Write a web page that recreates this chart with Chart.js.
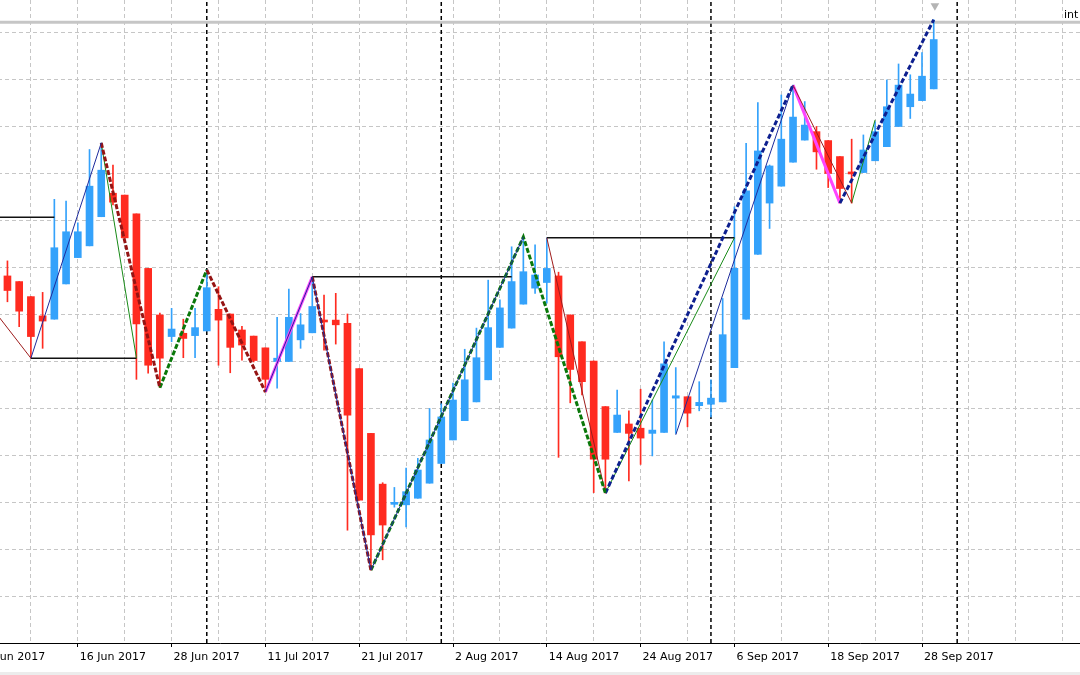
<!DOCTYPE html>
<html><head><meta charset="utf-8">
<script src="https://cdn.jsdelivr.net/npm/chart.js@4/dist/chart.umd.min.js"></script>
<style>
html,body{margin:0;padding:0;width:1080px;height:675px;overflow:hidden;background:#fff;}
#wrap{position:absolute;left:-100px;top:0;width:1280px;height:675px;}
#strip{position:absolute;left:0;top:672px;width:1080px;height:3px;background:#ececec;}
</style></head><body>
<div id="wrap"><canvas id="c" width="1280" height="675" style="width:1280px;height:675px"></canvas></div>
<div id="strip"></div>
<script>
// ---- data (daily bars, 8 Jun 2017 .. 29 Sep 2017) ----
const dates = ['2017-06-08','2017-06-09','2017-06-12','2017-06-13','2017-06-14','2017-06-15','2017-06-16','2017-06-19','2017-06-20','2017-06-21',
'2017-06-22','2017-06-23','2017-06-26','2017-06-27','2017-06-28','2017-06-29','2017-06-30','2017-07-03','2017-07-05','2017-07-06',
'2017-07-07','2017-07-10','2017-07-11','2017-07-12','2017-07-13','2017-07-14','2017-07-17','2017-07-18','2017-07-19','2017-07-20',
'2017-07-21','2017-07-24','2017-07-25','2017-07-26','2017-07-27','2017-07-28','2017-07-31','2017-08-01','2017-08-02','2017-08-03',
'2017-08-04','2017-08-07','2017-08-08','2017-08-09','2017-08-10','2017-08-11','2017-08-14','2017-08-15','2017-08-16','2017-08-17',
'2017-08-18','2017-08-21','2017-08-22','2017-08-23','2017-08-24','2017-08-25','2017-08-28','2017-08-29','2017-08-30','2017-08-31',
'2017-09-01','2017-09-05','2017-09-06','2017-09-07','2017-09-08','2017-09-11','2017-09-12','2017-09-13','2017-09-14','2017-09-15',
'2017-09-18','2017-09-19','2017-09-20','2017-09-21','2017-09-22','2017-09-25','2017-09-26','2017-09-27','2017-09-28','2017-09-29'];

const open = [107.81,107.69,107.37,106.96,106.89,107.64,108.20,108.45,109.07,109.57,
109.53,109.13,107.97,106.98,106.52,106.59,106.54,106.64,107.10,107.00,
106.66,106.53,106.28,105.99,105.99,106.45,106.60,106.87,106.87,106.80,
105.84,104.46,103.38,102.95,102.94,103.08,103.40,103.82,104.32,104.73,
105.13,105.60,106.29,106.70,107.21,107.55,107.67,107.81,106.98,106.41,
106.00,105.03,104.48,104.66,104.57,104.46,104.48,105.21,105.24,105.05,
105.08,105.13,105.86,106.89,108.27,109.36,109.72,110.23,110.70,110.88,
110.69,110.35,110.01,110.01,110.26,110.56,110.99,111.41,111.54,111.79];

const high = [108.13,107.69,107.37,107.46,109.44,109.40,108.94,110.50,110.64,110.17,
109.53,109.13,107.97,107.02,107.12,106.89,107.12,107.94,107.58,107.00,
106.74,106.53,106.28,106.93,107.53,107.01,107.79,107.40,107.44,107.00,
105.84,104.46,103.41,103.31,103.72,103.93,104.99,105.09,105.53,106.25,
106.70,107.72,107.30,108.43,108.64,108.47,108.62,107.89,106.98,106.41,
106.00,105.03,105.38,104.94,105.40,105.17,106.41,105.86,105.24,105.56,
105.60,107.33,109.28,110.63,111.50,110.17,111.66,111.87,111.52,110.99,
110.69,110.35,110.72,110.81,111.09,111.98,112.32,112.09,112.56,113.26];

const low = [107.26,106.73,106.06,106.27,106.89,107.64,108.20,108.45,109.07,109.32,
108.62,105.61,105.74,105.43,106.41,106.07,106.07,106.64,105.91,105.75,
106.02,105.98,105.34,105.42,105.99,106.27,106.60,106.23,106.36,102.40,
103.04,101.55,101.77,102.89,102.47,103.08,103.40,103.82,104.32,104.73,
105.13,105.60,106.29,106.70,107.21,107.44,107.23,103.95,105.11,105.28,
103.20,103.19,104.48,103.45,103.80,103.98,104.48,104.46,104.60,104.94,
104.81,105.13,105.86,106.89,108.27,108.82,109.72,110.23,110.70,110.08,
109.69,109.36,109.36,110.01,110.26,110.56,110.99,111.16,111.54,111.79];

const close = [107.50,107.06,106.52,106.85,108.41,108.75,108.75,109.72,110.06,109.38,
108.62,106.79,105.91,106.06,106.68,106.48,106.71,107.56,106.87,106.29,
106.34,106.01,105.61,106.06,106.93,106.77,107.16,106.83,106.77,104.85,
103.04,102.30,102.51,102.99,103.22,103.68,104.32,104.81,105.17,105.60,
106.07,106.71,107.13,107.69,107.90,107.83,107.97,106.09,105.82,105.56,
103.91,103.91,104.85,104.46,104.36,104.53,105.94,105.26,104.89,105.12,
105.21,106.56,107.97,109.62,110.47,110.15,110.72,111.19,111.02,110.45,
109.99,109.67,109.98,110.49,110.88,111.41,111.87,111.68,112.06,112.84];

// time axis labels (bar index -> label)
const tickBars = [-2,6,14,22,30,38,46,54,62,70,78];
const tickLabels = ['6 Jun 2017','16 Jun 2017','28 Jun 2017','11 Jul 2017','21 Jul 2017','2 Aug 2017','14 Aug 2017','24 Aug 2017','6 Sep 2017','18 Sep 2017','28 Sep 2017'];

// month separators (bar index of 3 Jul, 1 Aug, 1 Sep, 1 Oct)
const separatorBars = [17, 37, 60, 81];

// indicator / object lines: [bar, price], null = break
const zzRedThin   = [[-3,107.67],[2,106.06],null,[46,108.62],[51,103.19],null,[67,111.87],[72,109.36]];
const zzBlueThin  = [[2,106.06],[8,110.64],null,[22,105.34],[26,107.79],[31,101.55],[44,108.64],null,[57,104.43],[67,111.87]];
const zzGreenThin = [[8,110.64],[11,106.06],null,[51,103.19],[62,108.62],null,[72,109.36],[74,111.13]];
const zzRedDash   = [[8,110.64],[13,105.43],null,[17,107.94],[22,105.34],null,[26,107.79],[31,101.55]];
const zzGreenDash = [[13,105.43],[17,107.94],null,[31,101.55],[44,108.64],[51,103.19]];
const zzBlueDash  = [[51,103.19],[67,111.87],null,[71,109.36],[79,113.26]];
const zzMagenta   = [[22,105.34],[26,107.79],null,[67,111.87],[71,109.36]];
const levelLines  = [[-8,109.06],[4,109.06],null,[2,106.06],[11,106.06],null,[26,107.79],[43,107.79],null,[46,108.62],[62,108.62]];
const hLineLevel = 113.21;
const hLineName = 'int';
const shiftMarker = [[79.1,113.56]];

// ---- build ----
const BLUE = '#34a2fb', RED = '#ff2b20';
const candleColor = c => (close[c.dataIndex] >= open[c.dataIndex] ? BLUE : RED);
const pts = arr => { let lastX = 0; return arr.map(p => { if (p) { lastX = p[0]; return {x:p[0], y:p[1]}; } return {x:lastX, y:null}; }); };
const Y_MIN = 100, Y_MAX = 113.681;
const X_MIN = -9.164, X_MAX = 100.004;

function lineDs(arr, color, width, dash, order){
  return {type:'line', data:pts(arr), borderColor:color, borderWidth:width, borderDash:dash||[],
    pointRadius:0, fill:false, tension:0, spanGaps:false, order:order, borderCapStyle:'butt'};
}

const datasets = [];
separatorBars.forEach(b => datasets.push(lineDs([[b,Y_MIN],[b,Y_MAX]], '#000', 1.5, [4,3], 30)));
datasets.push(lineDs([[X_MIN,hLineLevel],[X_MAX,hLineLevel]], '#c6c6c6', 3, [], 29));
datasets.push({type:'bar', data:dates.map((d,i)=>({x:i, y:[low[i], high[i]]})), backgroundColor:candleColor,
  barThickness:1, grouped:false, borderWidth:0, minBarLength:1, order:21});
datasets.push({type:'bar', data:dates.map((d,i)=>({x:i, y:[open[i], close[i]]})), backgroundColor:candleColor,
  barThickness:7, grouped:false, borderWidth:0, minBarLength:2, order:20});
datasets.push(lineDs(levelLines, '#111', 1.5, [], 10));
datasets.push(lineDs(zzMagenta, '#ff44ff', 3, [], 9));
datasets.push(lineDs(zzRedThin, '#9e1c1c', 1, [], 8));
datasets.push(lineDs(zzGreenThin, '#178a17', 1, [], 8));
datasets.push(lineDs(zzRedDash, '#951414', 3, [5,2], 5));
datasets.push(lineDs(zzGreenDash, '#0a780a', 3, [5,2], 5));
datasets.push(lineDs(zzBlueDash, '#0d1f8f', 3, [5,2.5], 5));
datasets.push(lineDs(zzBlueThin, '#1d2b9c', 1, [], 4));
datasets.push({type:'line', data:pts(shiftMarker), showLine:false, pointStyle:'triangle', rotation:180,
  pointRadius:5, pointBackgroundColor:'#b4b4b4', pointBorderWidth:0, order:1, clip:false});

const labelPlugin = {
  id:'objLabels',
  afterDatasetsDraw(chart){
    const {ctx, scales:{x, y}} = chart;
    ctx.save();
    ctx.font = '11px "DejaVu Sans"';
    ctx.fillStyle = '#000';
    ctx.textBaseline = 'bottom';
    ctx.fillText(hLineName, x.getPixelForValue(90.1), y.getPixelForValue(hLineLevel) - 1);
    ctx.restore();
  }
};

const gridBars = [];
for (let v = -10; v <= 98; v += 4) gridBars.push(v);
const noPad = s => { s.paddingLeft = 0; s.paddingRight = 0; s.paddingTop = 0; s.paddingBottom = 0; };

new Chart(document.getElementById('c'), {
  type:'bar',
  data:{datasets},
  plugins:[labelPlugin],
  options:{
    responsive:false, animation:false, devicePixelRatio:1, events:[],
    layout:{padding:0, autoPadding:false},
    plugins:{legend:{display:false}, tooltip:{enabled:false}},
    scales:{
      x:{type:'linear', min:X_MIN, max:X_MAX, offset:false,
        afterBuildTicks: s => { s.ticks = gridBars.map(v => ({value:v})); },
        afterFit: s => { s.height = 32; noPad(s); },
        ticks:{autoSkip:false, maxRotation:0, minRotation:0, align:'start', labelOffset:2, padding:4,
          color:'#000', font:{family:'DejaVu Sans', size:11},
          callback: v => { const j = tickBars.indexOf(v); return j >= 0 ? tickLabels[j] : ''; }},
        grid:{offset:false, color:'#c6c6c6', lineWidth:1, tickLength:4, tickWidth:1,
          tickColor: c => (c.tick && tickBars.indexOf(c.tick.value) >= 0 ? '#000' : 'rgba(0,0,0,0)')},
        border:{display:true, color:'#000', width:1, dash:[4,3]}
      },
      y:{type:'linear', position:'right', min:Y_MIN, max:Y_MAX,
        afterBuildTicks: s => { const t=[]; for (let v = 101; v <= 113; v++) t.push({value:v}); s.ticks = t; },
        afterFit: s => { s.width = 0; noPad(s); },
        ticks:{display:false},
        grid:{offset:false, color:'#c6c6c6', lineWidth:1, drawTicks:false},
        border:{display:false, dash:[4,3]}
      }
    }
  }
});
</script></body></html>
